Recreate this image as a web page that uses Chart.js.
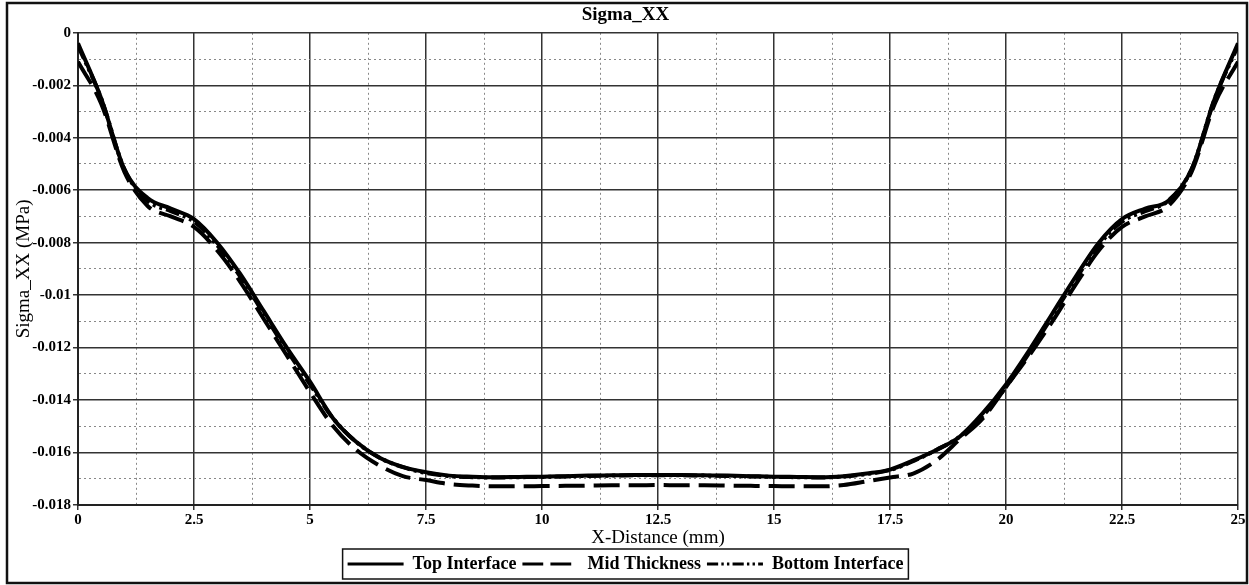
<!DOCTYPE html>
<html>
<head>
<meta charset="utf-8">
<script src="https://cdn.jsdelivr.net/npm/chart.js@4.4.0/dist/chart.umd.min.js"></script>
<style>
  html, body { margin: 0; padding: 0; background: #fff; }
  #wrap { width: 1249px; height: 585px; }
</style>
</head>
<body>
<div id="wrap"><canvas id="sigmaChart"></canvas></div>
<script>
const xDistance = [0, 0.5, 1, 1.5, 2, 2.5, 3, 3.5, 4, 4.5, 5, 5.5, 6, 6.5, 7, 7.5, 8, 8.5, 9, 9.5,
  10, 10.5, 11, 11.5, 12, 12.5, 13, 13.5, 14, 14.5, 15, 15.5, 16, 16.5, 17, 17.5, 18, 18.5, 19, 19.5,
  20, 20.5, 21, 21.5, 22, 22.5, 23, 23.5, 24, 24.5, 25];

const topInterface = [-0.0004, -0.0025, -0.0052, -0.0063, -0.0067, -0.0071, -0.0080, -0.0092, -0.0106, -0.0120,
  -0.0133, -0.0147, -0.0156, -0.0162, -0.01655, -0.01675, -0.01688, -0.01692, -0.01694, -0.01693,
  -0.01692, -0.0169, -0.01688, -0.01687, -0.01686, -0.01686, -0.01686, -0.01687, -0.01688, -0.0169,
  -0.01692, -0.01693, -0.01694, -0.0169, -0.0168, -0.01665, -0.0163, -0.0159, -0.0154, -0.0145,
  -0.0134, -0.0121, -0.0107, -0.0093, -0.0080, -0.0071, -0.0067, -0.0064, -0.0052, -0.0025, -0.0004];

const midThickness = [-0.0011, -0.0027, -0.0053, -0.0066, -0.0070, -0.0074, -0.0083, -0.0095, -0.0109, -0.0123,
  -0.0137, -0.0150, -0.0159, -0.0165, -0.0169, -0.01705, -0.0172, -0.01726, -0.01729, -0.01729,
  -0.01728, -0.01727, -0.01726, -0.01725, -0.01725, -0.01724, -0.01725, -0.01725, -0.01726, -0.01727,
  -0.01728, -0.01729, -0.01729, -0.01724, -0.0171, -0.01695, -0.0168, -0.0163, -0.0155, -0.0147,
  -0.0135, -0.0123, -0.0110, -0.0096, -0.0083, -0.0074, -0.0070, -0.0066, -0.0053, -0.0027, -0.0011];

const bottomInterface = [-0.0005, -0.0025, -0.0052, -0.0064, -0.0068, -0.0072, -0.0081, -0.0093, -0.0107, -0.0121,
  -0.0134, -0.0147, -0.0156, -0.0162, -0.01656, -0.01678, -0.0169, -0.01694, -0.01695, -0.01694,
  -0.01693, -0.01691, -0.01689, -0.01688, -0.01687, -0.01687, -0.01687, -0.01688, -0.01689, -0.01691,
  -0.01693, -0.01694, -0.01695, -0.01691, -0.01682, -0.01667, -0.01633, -0.0159, -0.0154, -0.0146,
  -0.0135, -0.0122, -0.0108, -0.0094, -0.0081, -0.0072, -0.0068, -0.0064, -0.0052, -0.0025, -0.0005];

// every tick draws a grid line, only the labelled ones are solid
const xTicks = [0, 1.25, 2.5, 3.75, 5, 6.25, 7.5, 8.75, 10, 11.25, 12.5, 13.75, 15, 16.25, 17.5, 18.75, 20, 21.25, 22.5, 23.75, 25];
const xTickLabels = ['0', '', '2.5', '', '5', '', '7.5', '', '10', '', '12.5', '', '15', '', '17.5', '', '20', '', '22.5', '', '25'];
const yTicks = [0, -0.001, -0.002, -0.003, -0.004, -0.005, -0.006, -0.007, -0.008, -0.009, -0.010,
  -0.011, -0.012, -0.013, -0.014, -0.015, -0.016, -0.017, -0.018];
const yTickLabels = ['0', '', '-0.002', '', '-0.004', '', '-0.006', '', '-0.008', '', '-0.01',
  '', '-0.012', '', '-0.014', '', '-0.016', '', '-0.018'];

const serif = "'Liberation Serif', 'Times New Roman', serif";

const pts = (ys) => xDistance.map((x, i) => ({ x: x, y: ys[i] }));

function isMajor(ctx, labels) {
  if (!ctx || ctx.index === undefined) return true;
  return labels[ctx.index] !== '';
}

function gridFor(labels) {
  return {
    color: (ctx) => isMajor(ctx, labels) ? '#333' : '#888',
    lineWidth: (ctx) => isMajor(ctx, labels) ? 1.5 : 1,
    tickColor: (ctx) => isMajor(ctx, labels) ? '#333' : 'rgba(0,0,0,0)',
    tickLength: 5
  };
}

function borderFor(labels) {
  return {
    display: true,
    color: '#222',
    width: 2,
    dash: (ctx) => isMajor(ctx, labels) ? [] : [2, 3]
  };
}

const framePlugin = {
  id: 'frame',
  beforeDraw(chart) {
    const c = chart.ctx;
    c.save();
    c.fillStyle = '#fff';
    c.fillRect(0, 0, chart.width, chart.height);
    c.restore();
  },
  afterDraw(chart) {
    const c = chart.ctx;
    c.save();
    c.strokeStyle = '#111';
    c.lineWidth = 2.5;
    c.strokeRect(7, 3, 1240, 580);
    // box round the legend
    const hb = chart.legend.legendHitBoxes;
    if (hb && hb.length) {
      const left = Math.min(...hb.map(b => b.left)) - 5;
      const right = Math.max(...hb.map(b => b.left + b.width)) + 5;
      const top = hb[0].top - 6;
      const h = hb[0].height + 12;
      c.lineWidth = 1.5;
      c.strokeRect(left, top, right - left, h);
    }
    c.restore();
  }
};

new Chart(document.getElementById('sigmaChart'), {
  type: 'line',
  data: {
    datasets: [
      {
        label: 'Top Interface',
        data: pts(topInterface),
        borderColor: '#000',
        backgroundColor: '#000',
        borderWidth: 4,
        pointRadius: 0,
        cubicInterpolationMode: 'monotone'
      },
      {
        label: 'Mid Thickness',
        data: pts(midThickness),
        borderColor: '#000',
        backgroundColor: '#000',
        borderWidth: 4,
        borderDash: [26, 9],
        pointRadius: 0,
        cubicInterpolationMode: 'monotone'
      },
      {
        label: 'Bottom Interface',
        data: pts(bottomInterface),
        borderColor: '#000',
        backgroundColor: '#000',
        borderWidth: 4,
        borderDash: [14, 4, 3, 4, 3, 4],
        pointRadius: 0,
        cubicInterpolationMode: 'monotone'
      }
    ]
  },
  options: {
    responsive: true,
    maintainAspectRatio: false,
    animation: false,
    devicePixelRatio: 1,
    layout: { padding: { left: 13, right: 11, top: 0, bottom: 2 } },
    plugins: {
      title: {
        display: true,
        text: 'Sigma_XX',
        color: '#000',
        font: { family: serif, size: 19, weight: 'bold' },
        padding: { top: 4, bottom: 6 }
      },
      legend: {
        position: 'bottom',
        labels: {
          color: '#000',
          font: { family: serif, size: 18, weight: 'bold' },
          usePointStyle: true,
          pointStyle: 'line',
          pointStyleWidth: 56,
          padding: 6,
          generateLabels: (chart) => chart.data.datasets.map((ds, i) => ({
            text: ds.label,
            datasetIndex: i,
            fillStyle: ds.borderColor,
            strokeStyle: ds.borderColor,
            lineWidth: 3,
            lineDash: ds.borderDash ? ds.borderDash.map(d => d * 0.8) : [],
            pointStyle: 'line',
            fontColor: '#000',
            hidden: false
          }))
        }
      },
      tooltip: { enabled: false }
    },
    scales: {
      x: {
        type: 'linear',
        min: 0,
        max: 25,
        afterBuildTicks: (scale) => { scale.ticks = xTicks.map(v => ({ value: v })); },
        afterFit: (scale) => { scale.height = 44; },
        ticks: {
          autoSkip: false,
          maxRotation: 0,
          padding: 1,
          color: '#000',
          font: { family: serif, size: 15, weight: 'bold' },
          callback: (v, i) => xTickLabels[i]
        },
        grid: gridFor(xTickLabels),
        border: borderFor(xTickLabels),
        title: {
          display: true,
          text: 'X-Distance (mm)',
          color: '#000',
          font: { family: serif, size: 19 },
          padding: { top: 0, bottom: 0 }
        }
      },
      y: {
        min: -0.018,
        max: 0,
        afterBuildTicks: (scale) => { scale.ticks = yTicks.map(v => ({ value: v })); },
        afterFit: (scale) => { scale.width = 65; },
        ticks: {
          autoSkip: false,
          padding: 2,
          color: '#000',
          font: { family: serif, size: 15, weight: 'bold' },
          callback: (v, i) => yTickLabels[i]
        },
        grid: gridFor(yTickLabels),
        border: borderFor(yTickLabels),
        title: {
          display: true,
          text: 'Sigma_XX (MPa)',
          color: '#000',
          font: { family: serif, size: 19 },
          padding: { top: 0, bottom: 4 }
        }
      }
    }
  },
  plugins: [framePlugin]
});
</script>
</body>
</html>
